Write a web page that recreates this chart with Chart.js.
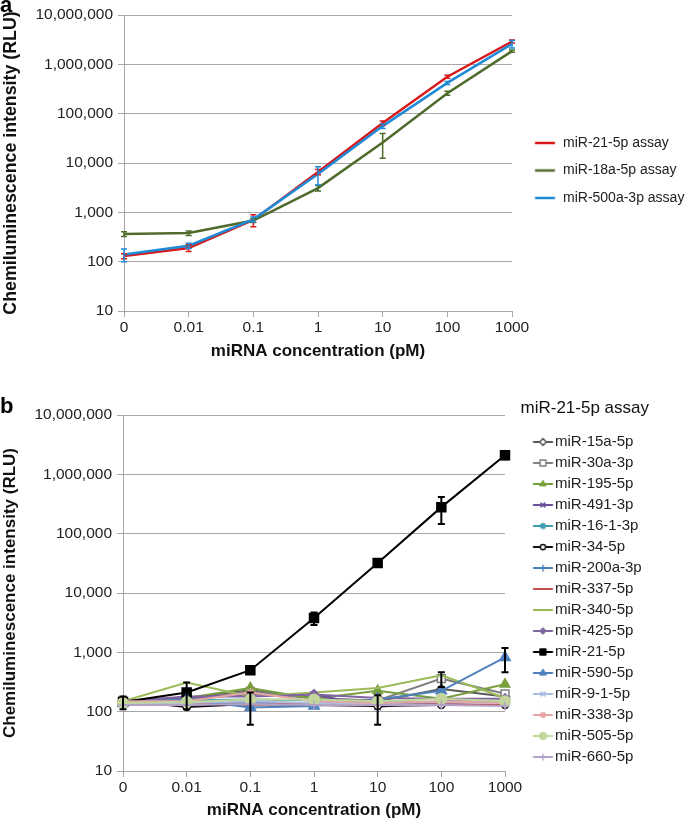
<!DOCTYPE html>
<html>
<head>
<meta charset="utf-8">
<script src="https://cdn.jsdelivr.net/npm/chart.js@4/dist/chart.umd.min.js"></script>
<style>
  body { margin: 0; background: #fff; }
  canvas { position: absolute; left: 0; }
  #chartA { top: 0; }
  #chartB { top: 380px; }
</style>
</head>
<body>
<canvas id="chartA" width="685" height="362"></canvas>
<canvas id="chartB" width="685" height="441"></canvas>
<script>
// x categories and y ticks (shared by both panels)
const xLabels = ['0', '0.01', '0.1', '1', '10', '100', '1000'];
const yTicks = [10, 100, 1000, 10000, 100000, 1000000, 10000000];

// Panel a: three assays, values and error (+/-)
const a21 = [130, 190, 700, 6600, 65000, 560000, 2900000];
const a21Err = [15, 30, 190, 800, 6000, 40000, 200000];
const a18 = [365, 380, 680, 3100, 26000, 260000, 1850000];
const a18Err = [40, 40, 60, 400, 13500, 25000, 100000];
const a500 = [140, 210, 720, 6000, 56000, 420000, 2600000];
const a500Err = [40, 25, 80, 2400, 6000, 30000, 450000];

// Panel b: miR-21-5p assay against 16 targets
const b15a = [150, 170, 230, 170, 150, 240, 180];
const b30a = [150, 160, 220, 165, 155, 360, 200];
const b195 = [150, 170, 250, 165, 225, 165, 290];
const b491 = [150, 175, 190, 195, 120, 150, 150];
const b16 = [150, 155, 160, 155, 150, 145, 145];
const b34 = [155, 120, 135, 130, 125, 130, 130];
const b200a = [140, 135, 140, 140, 140, 140, 150];
const b337 = [140, 140, 130, 140, 130, 135, 130];
const b340 = [150, 310, 180, 210, 250, 410, 170];
const b425 = [150, 180, 180, 195, 170, 165, 165];
const b21 = [145, 210, 500, 3800, 32000, 280000, 2100000];
const b590 = [140, 160, 118, 125, 160, 225, 820];
const b9 = [140, 140, 150, 140, 140, 145, 140];
const b338 = [150, 150, 210, 150, 140, 150, 140];
const b505 = [140, 145, 160, 160, 150, 165, 150];
const b660 = [130, 130, 135, 130, 130, 130, 125];

const b21Err = [35, 100, 40, 900, 2000, 135000, 300000];
const b30aErr = [0, 0, 0, 0, 0, 100, 0];
const b34Err = [0, 0, 75, 0, 65, 0, 0];
const b590Err = [0, 0, 0, 0, 0, 0, 360];

Chart.defaults.font.family = "'Liberation Sans', Arial, Helvetica, sans-serif";
Chart.defaults.color = '#222';

// vertical error bars, drawn through the y scale
const errorBars = {
  id: 'errorBars',
  afterDatasetsDraw(chart, args, opts) {
    const ctx = chart.ctx;
    const yScale = chart.scales.y;
    chart.data.datasets.forEach((ds, i) => {
      if (!ds.errors) return;
      const meta = chart.getDatasetMeta(i);
      ctx.save();
      ctx.strokeStyle = opts.color || ds.borderColor;
      ctx.lineWidth = opts.width;
      meta.data.forEach((pt, j) => {
        const e = ds.errors[j];
        if (!e) return;
        const v = ds.data[j];
        const top = yScale.getPixelForValue(v + e);
        const bot = yScale.getPixelForValue(Math.max(v - e, 1));
        ctx.beginPath();
        ctx.moveTo(pt.x, top); ctx.lineTo(pt.x, bot);
        ctx.moveTo(pt.x - opts.cap, top); ctx.lineTo(pt.x + opts.cap, top);
        ctx.moveTo(pt.x - opts.cap, bot); ctx.lineTo(pt.x + opts.cap, bot);
        ctx.stroke();
      });
      ctx.restore();
    });
  }
};

// legend icon: short line with the marker, shifted by dx
function makeIcon(ds, dx) {
  const half = 12 + Math.ceil(Math.abs(dx));
  const c = document.createElement('canvas');
  c.width = half * 2;
  c.height = 16;
  const g = c.getContext('2d');
  const cx = half + dx, cy = 8;
  g.strokeStyle = ds.borderColor;
  g.lineWidth = ds.borderWidth;
  g.beginPath(); g.moveTo(cx - 10, cy); g.lineTo(cx + 10, cy); g.stroke();
  if (ds.pointRadius > 0) {
    g.fillStyle = ds.pointBackgroundColor || ds.borderColor;
    g.strokeStyle = ds.pointBorderColor || ds.borderColor;
    g.lineWidth = ds.pointBorderWidth || 1;
    Chart.helpers.drawPoint(g, {
      pointStyle: ds.pointStyle, radius: ds.pointRadius * 0.75,
      rotation: 0, borderWidth: g.lineWidth
    }, cx, cy);
  }
  return c;
}

function iconLabels(dx) {
  return function (chart) {
    const items = Chart.defaults.plugins.legend.labels.generateLabels(chart);
    items.forEach(it => {
      it.pointStyle = makeIcon(chart.data.datasets[it.datasetIndex], dx);
    });
    return items;
  };
}

function makeScales(yWidth, xHeight, yTitleSize) {
  return {
    x: {
      type: 'category',
      labels: xLabels,
      offset: false,
      grid: { drawOnChartArea: false, offset: false, tickLength: 6, color: '#a6a6a6' },
      border: { color: '#a6a6a6' },
      ticks: { font: { size: 15.5 }, padding: 1, maxRotation: 0, autoSkip: false },
      title: {
        display: true, text: 'miRNA concentration (pM)', color: '#111',
        font: { size: 17, weight: 'bold' }, padding: 0
      },
      afterFit: s => { s.height = xHeight; }
    },
    y: {
      type: 'logarithmic',
      min: 10,
      max: 10000000,
      afterBuildTicks: s => { s.ticks = yTicks.map(v => ({ value: v })); },
      grid: { tickLength: 6, color: '#a6a6a6' },
      border: { color: '#a6a6a6' },
      ticks: {
        font: { size: 15.5 }, padding: 5,
        callback: v => Number(v).toLocaleString('en-US')
      },
      title: {
        display: true, text: 'Chemiluminescence intensity (RLU)', color: '#111',
        font: { size: yTitleSize, weight: 'bold' }, padding: 0
      },
      afterFit: s => { s.width = yWidth; }
    }
  };
}

function line(label, data, color, extra) {
  return Object.assign({
    label: label, data: data, borderColor: color, backgroundColor: color,
    borderWidth: 2, pointRadius: 0, clip: false, tension: 0
  }, extra);
}

function withOrder(sets) {
  sets.forEach((d, i) => { d.order = sets.length - i; });
  return sets;
}

// Panel a
new Chart(document.getElementById('chartA'), {
  type: 'line',
  data: {
    datasets: withOrder([
      line('miR-21-5p assay', a21, '#d7191c', { errors: a21Err, borderWidth: 2.5 }),
      line('miR-18a-5p assay', a18, '#4f6b2b', { errors: a18Err, borderWidth: 2.5 }),
      line('miR-500a-3p assay', a500, '#1f8ad6', { errors: a500Err, borderWidth: 2.5 })
    ])
  },
  options: {
    responsive: false,
    animation: false,
    layout: { padding: { left: 0, right: 0, top: 0, bottom: 0 } },
    scales: makeScales(124, 51, 17.8),
    plugins: {
      title: {
        display: true, text: 'a', align: 'start', color: '#000',
        font: { size: 22, weight: 'bold', lineHeight: '11px' },
        padding: { top: 0, bottom: 4 }
      },
      legend: {
        position: 'right', align: 'center', fullSize: false, maxWidth: 173,
        title: { display: true, text: '', font: { size: 10, lineHeight: '15px' }, padding: 0 },
        labels: {
          usePointStyle: true, pointStyleWidth: 30.5, padding: 13.5,
          font: { size: 14 }, color: '#222',
          generateLabels: iconLabels(4.25),
          sort: (p, q) => p.datasetIndex - q.datasetIndex
        }
      },
      tooltip: { enabled: false },
      errorBars: { width: 1.5, cap: 3 }
    }
  },
  plugins: [errorBars]
});

// Panel b
const open = { pointBackgroundColor: '#fff', pointBorderWidth: 1.5 };
new Chart(document.getElementById('chartB'), {
  type: 'line',
  data: {
    datasets: withOrder([
      line('miR-15a-5p', b15a, '#595959', Object.assign({ pointStyle: 'rectRot', pointRadius: 4.5 }, open)),
      line('miR-30a-3p', b30a, '#7f7f7f', Object.assign({ pointStyle: 'rect', pointRadius: 5.5, errors: b30aErr }, open)),
      line('miR-195-5p', b195, '#77a03c', { pointStyle: 'triangle', pointRadius: 5 }),
      line('miR-491-3p', b491, '#6b4e9b', { pointStyle: 'crossRot', pointRadius: 4.5, pointBorderWidth: 1.5 }),
      line('miR-16-1-3p', b16, '#3d9db3', { pointStyle: 'star', pointRadius: 4.5, pointBorderWidth: 1.5 }),
      line('miR-34-5p', b34, '#111111', Object.assign({ pointStyle: 'circle', pointRadius: 3.5, errors: b34Err }, open)),
      line('miR-200a-3p', b200a, '#4a7ebb', { pointStyle: 'cross', pointRadius: 4.5, pointBorderWidth: 1.5 }),
      line('miR-337-5p', b337, '#c0504d', {}),
      line('miR-340-5p', b340, '#9bbb59', {}),
      line('miR-425-5p', b425, '#8064a2', { pointStyle: 'rectRot', pointRadius: 4.5 }),
      line('miR-21-5p', b21, '#000000', { pointStyle: 'rect', pointRadius: 6, errors: b21Err }),
      line('miR-590-5p', b590, '#4f81bd', { pointStyle: 'triangle', pointRadius: 5.5, errors: b590Err }),
      line('miR-9-1-5p', b9, '#a9bde0', { pointStyle: 'crossRot', pointRadius: 4.5, pointBorderWidth: 1.5 }),
      line('miR-338-3p', b338, '#e6a6a5', { pointStyle: 'star', pointRadius: 4.5, pointBorderWidth: 1.5 }),
      line('miR-505-5p', b505, '#c3d69b', { pointStyle: 'circle', pointRadius: 5 }),
      line('miR-660-5p', b660, '#b3a2c7', { pointStyle: 'cross', pointRadius: 4.5, pointBorderWidth: 1.5 })
    ])
  },
  options: {
    responsive: false,
    animation: false,
    layout: { padding: { left: 0, right: 36, top: 4, bottom: 0 } },
    scales: makeScales(123, 50, 17),
    plugins: {
      title: {
        display: true, text: 'b', align: 'start', color: '#000',
        font: { size: 22, weight: 'bold', lineHeight: '16px' },
        padding: { top: 15, bottom: 0 }
      },
      legend: {
        position: 'right', align: 'start', fullSize: true, maxWidth: 144,
        title: {
          display: true, text: 'miR-21-5p assay', position: 'end', color: '#111',
          font: { size: 17 }, padding: { top: 15.5, bottom: 8.6 }
        },
        labels: {
          usePointStyle: true, pointStyleWidth: 36.5, padding: 6,
          font: { size: 15 }, color: '#222',
          generateLabels: iconLabels(13.75),
          sort: (p, q) => p.datasetIndex - q.datasetIndex
        }
      },
      tooltip: { enabled: false },
      errorBars: { width: 2, cap: 3.5, color: '#000' }
    }
  },
  plugins: [errorBars]
});
</script>
</body>
</html>
